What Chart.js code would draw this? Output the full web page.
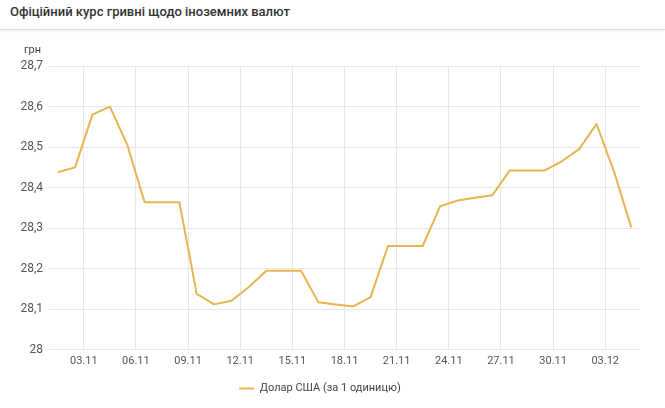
<!DOCTYPE html>
<html>
<head>
<meta charset="utf-8">
<script src="https://cdn.jsdelivr.net/npm/chart.js@4/dist/chart.umd.min.js"></script>
<style>
  body { margin: 0; background: #fff; font-family: Roboto, "Noto Sans", sans-serif; }
  #wrap { position: relative; width: 665px; height: 408px; overflow: hidden; }
  #title {
    position: absolute; left: 10px; top: 4px;
    font-size: 13px; font-weight: 500; color: #333;
  }
  #sep {
    position: absolute; left: 0; top: 29px; width: 665px; height: 1px;
    background: #dcdcdc; box-shadow: 0 1px 2px rgba(0,0,0,0.08);
  }
  canvas { position: absolute; left: 0; top: 0; }
</style>
</head>
<body>
<div id="wrap">
  <div id="title">Офіційний курс гривні щодо іноземних валют</div>
  <div id="sep"></div>
  <canvas id="chart" width="665" height="408"></canvas>
</div>
<script>
// дні листопада-грудня, по яких є курс
const dates = [
  "01.11","02.11","03.11","04.11","05.11","06.11","07.11","08.11","09.11","10.11",
  "11.11","12.11","13.11","14.11","15.11","16.11","17.11","18.11","19.11","20.11",
  "21.11","22.11","23.11","24.11","25.11","26.11","27.11","28.11","29.11","30.11",
  "01.12","02.12","03.12","04.12"
];

// Долар США (за 1 одиницю), грн
const usdRates = [
  28.438, 28.450, 28.580, 28.600, 28.506, 28.364, 28.364, 28.364, 28.138, 28.112,
  28.121, 28.155, 28.195, 28.195, 28.195, 28.117, 28.112, 28.107, 28.130, 28.256,
  28.256, 28.256, 28.354, 28.368, 28.375, 28.381, 28.442, 28.442, 28.442, 28.465,
  28.495, 28.557, 28.440, 28.302
];

// підписи на осі X
const tickLabels = ["03.11","06.11","09.11","12.11","15.11","18.11","21.11","24.11","27.11","30.11","03.12"];

const yTicks = [28, 28.1, 28.2, 28.3, 28.4, 28.5, 28.6, 28.7];

const lineColor = "#e8b450";

const points = usdRates.map((v, i) => ({ x: i, y: v }));

// підпис "грн" над віссю
const unitLabel = {
  id: "unitLabel",
  afterDraw(chart) {
    const ctx = chart.ctx;
    ctx.save();
    ctx.font = "11px Roboto, 'Noto Sans', sans-serif";
    ctx.fillStyle = "#444";
    ctx.textAlign = "left";
    ctx.textBaseline = "middle";
    ctx.fillText("грн", 24, 50);
    ctx.restore();
  }
};

new Chart(document.getElementById("chart"), {
  type: "line",
  data: {
    datasets: [{
      label: "Долар США (за 1 одиницю)",
      data: points,
      borderColor: lineColor,
      backgroundColor: lineColor,
      borderWidth: 2,
      pointRadius: 0,
      tension: 0,
      borderJoinStyle: "round",
      fill: false
    }]
  },
  options: {
    responsive: false,
    animation: false,
    layout: { padding: { top: 66, right: 25, left: 0, bottom: 4 } },
    scales: {
      x: {
        type: "linear",
        min: -0.5,
        max: dates.length - 0.5,
        afterBuildTicks: axis => {
          axis.ticks = tickLabels.map(l => ({ value: dates.indexOf(l) - 0.5 }));
        },
        ticks: {
          autoSkip: false,
          maxRotation: 0,
          color: "#555",
          font: { size: 11, family: "Roboto, 'Noto Sans', sans-serif" },
          padding: 5,
          callback: (val, i) => tickLabels[i]
        },
        grid: { color: "#e6e6e6", drawTicks: false },
        border: { display: false }
      },
      y: {
        min: 28,
        max: 28.7,
        afterBuildTicks: axis => {
          axis.ticks = yTicks.map(v => ({ value: v }));
        },
        afterFit: axis => { axis.width = 49; },
        ticks: {
          color: "#555",
          font: { size: 12, family: "Roboto, 'Noto Sans', sans-serif" },
          padding: 6,
          callback: v => String(Math.round(v * 10) / 10).replace(".", ",")
        },
        grid: { color: "#e6e6e6", drawTicks: false },
        border: { display: false }
      }
    },
    plugins: {
      legend: {
        position: "bottom",
        labels: {
          usePointStyle: true,
          pointStyle: "line",
          pointStyleWidth: 15,
          color: "#444",
          font: { size: 11, family: "Roboto, 'Noto Sans', sans-serif" },
          padding: 10
        }
      },
      tooltip: { enabled: false }
    }
  },
  plugins: [unitLabel]
});
</script>
</body>
</html>
